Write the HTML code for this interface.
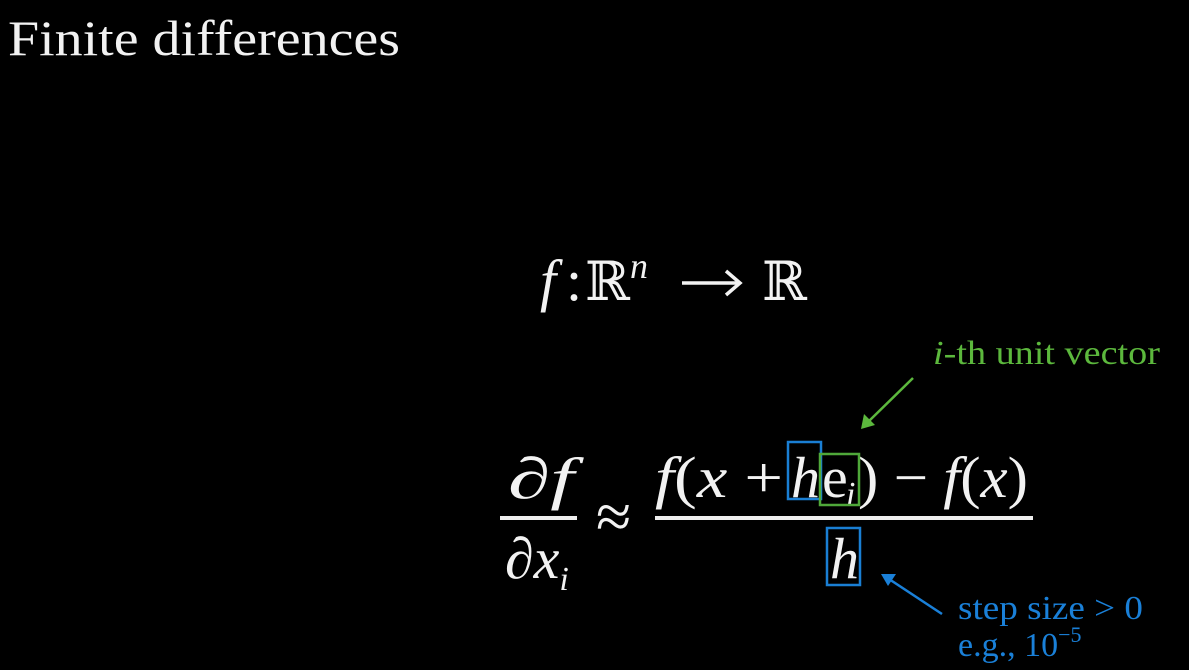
<!DOCTYPE html>
<html><head><meta charset="utf-8"><style>
html,body{margin:0;padding:0;background:#000;}
svg{display:block;}
text{font-family:"Liberation Serif","DejaVu Serif",serif;fill:#f2f2f2;}
.it{font-style:italic;}
</style></head><body>
<svg width="1189" height="670" viewBox="0 0 1189 670">
<rect width="1189" height="670" fill="#000"/>
<text x="8" y="55" font-size="50" textLength="392" lengthAdjust="spacingAndGlyphs">Finite differences</text>

<g>
<text x="540" y="300" font-size="58" class="it">f</text>
<text x="566" y="300" font-size="58">:</text>
<text x="585" y="300" font-size="54">ℝ</text>
<text x="630" y="278" font-size="36" class="it">n</text>
<line x1="682" y1="283" x2="738" y2="283" stroke="#f2f2f2" stroke-width="3.5"/>
<polyline points="726,271 740,283 726,295" fill="none" stroke="#f2f2f2" stroke-width="3.5"/>
<text x="762" y="300" font-size="54">ℝ</text>
</g>

<g>
<text x="508" y="498" font-size="58" class="it" textLength="66" lengthAdjust="spacingAndGlyphs">∂f</text>
<rect x="500" y="516" width="77" height="4" fill="#eee"/>
<text x="505" y="578" font-size="58" class="it">∂x<tspan font-size="34" dy="12">i</tspan></text>
</g>
<text x="596" y="538" font-size="64">≈</text>

<g>
<text x="655" y="497" font-size="58" textLength="128" lengthAdjust="spacingAndGlyphs"><tspan class="it">f</tspan>(<tspan class="it">x</tspan> + </text>
<text x="791" y="497" font-size="58" class="it">h</text>
<text x="822" y="497" font-size="58">e</text>
<text x="846" y="505" font-size="34" class="it">i</text>
<text x="858" y="497" font-size="58" textLength="170" lengthAdjust="spacingAndGlyphs">) − <tspan class="it">f</tspan>(<tspan class="it">x</tspan>)</text>
<rect x="655" y="516" width="378" height="4" fill="#eee"/>
<text x="830" y="578" font-size="58" class="it">h</text>
</g>

<rect x="788" y="442" width="33" height="57" fill="none" stroke="#1a7fd4" stroke-width="2.5"/>
<rect x="820" y="454" width="39" height="51" fill="none" stroke="#4fa83a" stroke-width="2.5"/>
<rect x="827" y="528" width="33" height="57" fill="none" stroke="#1a7fd4" stroke-width="2.5"/>

<text x="933" y="364" font-size="34" textLength="227" lengthAdjust="spacingAndGlyphs" style="fill:#5cb83d"><tspan class="it">i</tspan>-th unit vector</text>
<g stroke="#5cb83d" stroke-width="2.5" fill="#5cb83d">
<line x1="913" y1="378" x2="868" y2="422"/>
<polygon points="861,429 864,414 875,425" stroke="none"/>
</g>

<text x="958" y="619" font-size="34" textLength="185" lengthAdjust="spacingAndGlyphs" style="fill:#1a80d8">step size &gt; 0</text>
<text x="958" y="656" font-size="34" style="fill:#1a80d8">e.g., 10<tspan font-size="22" dy="-14">−5</tspan></text>
<g stroke="#1a80d8" stroke-width="2.5" fill="#1a80d8">
<line x1="942" y1="614" x2="889" y2="579"/>
<polygon points="881,574 896,574 888,586" stroke="none"/>
</g>
</svg>
</body></html>
